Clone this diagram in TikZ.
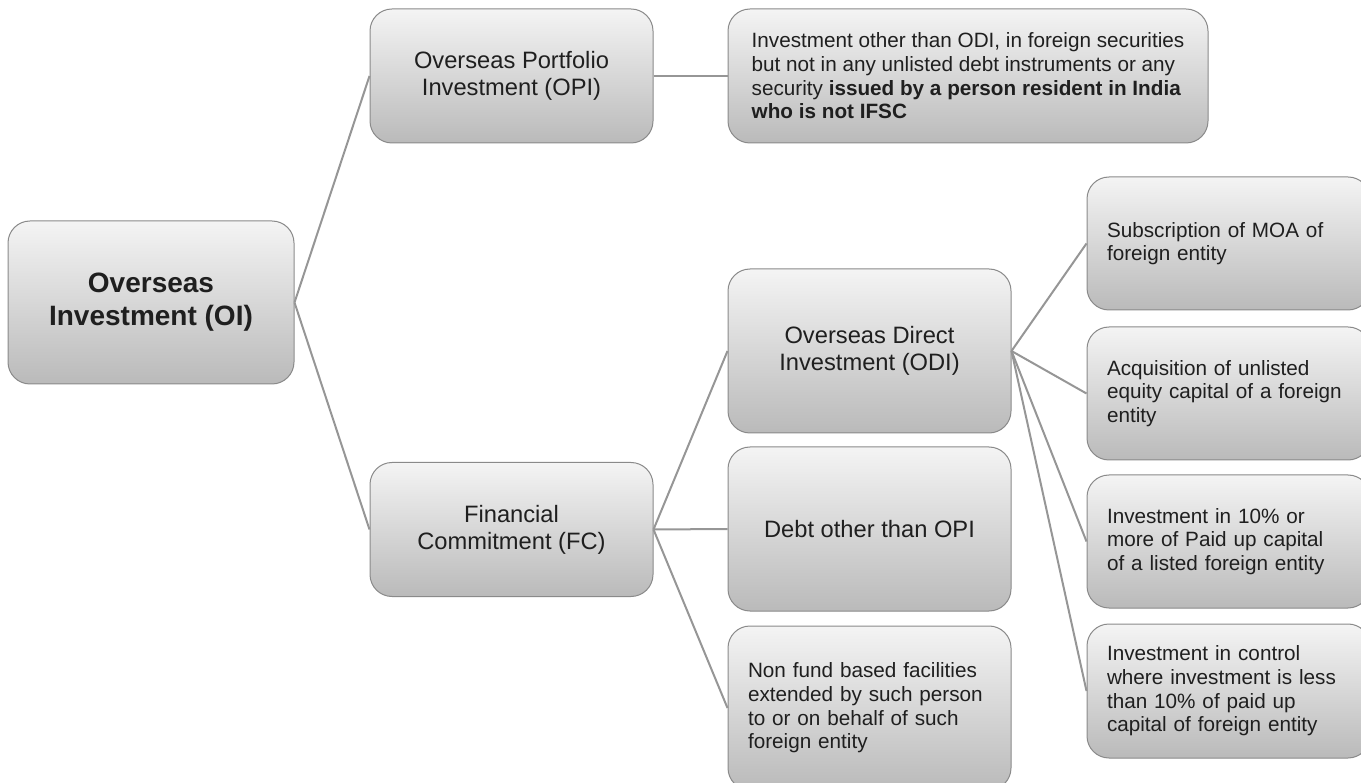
\documentclass[tikz,border=0pt]{standalone}
\usepackage{fontspec}
\setmainfont{Liberation Sans}
\usetikzlibrary{positioning}
\hyphenpenalty=10000

\definecolor{boxtop}{RGB}{244,244,244}
\definecolor{boxbot}{RGB}{186,186,186}
\definecolor{boxline}{RGB}{138,138,138}
\definecolor{linkgray}{RGB}{150,150,150}

\begin{document}
\begin{tikzpicture}[x=1pt, y=-1pt,
  every node/.style={text=black!88, inner sep=0pt},
  box/.style={draw=boxline, line width=1pt, rounded corners=22pt, top color=boxtop, bottom color=boxbot,
    minimum width=283pt, minimum height=164pt, align=center, font=\fontsize{23.7}{27}\selectfont},
  smalltext/.style={font=\fontsize{20.7}{23.6}\selectfont},
  leftbox/.style={box, smalltext, align=left, text width=243pt},
  link/.style={draw=linkgray, line width=2pt}]

\useasboundingbox (0,0) rectangle (1361,783);
\clip (0,0) rectangle (1361,783);

% Nodes
\node (oi) [box, minimum width=286pt, minimum height=163pt, font=\fontsize{28}{33}\selectfont\bfseries] at (151,302.5) {Overseas\\Investment (OI)};
\node (opi) [box, minimum height=134pt] at (511.5,76) {Overseas Portfolio\\Investment (OPI)};
\node (opidesc) [box, smalltext, align=left, minimum width=480pt, minimum height=134pt] at (968,76)
  {Investment other than ODI, in foreign securities\\but not in any unlisted debt instruments or any\\security \textbf{issued by a person resident in India}\\\textbf{who is not IFSC}};
\node (fc) [box, minimum height=134pt] at (511.5,529.5) {Financial\\Commitment (FC)};

\node (odi) [box] at (869.5,351) {Overseas Direct\\Investment (ODI)};
\node (debt) [box] at (869.5,529) {Debt other than OPI};
\node (nonfund) [leftbox] at (869.5,708) {Non fund based facilities\\extended by such person\\to or on behalf of such\\foreign entity};

\node (moa) [leftbox, minimum height=133pt] at (1228.5,243.5) {Subscription of MOA of\\foreign entity};
\node (equity) [leftbox, minimum height=133pt] at (1228.5,393.5) {Acquisition of unlisted\\equity capital of a foreign\\entity};
\node (listed) [leftbox, minimum height=133pt] at (1228.5,541.5) {Investment in 10\% or\\more of Paid up capital\\of a listed foreign entity};
\node (control) [leftbox, minimum height=134pt] at (1228.5,691) {Investment in control\\where investment is less\\than 10\% of paid up\\capital of foreign entity};

% Lines
\draw[link] (oi.east) -- (opi.west);
\draw[link] (oi.east) -- (fc.west);
\draw[link] (opi.east) -- (opidesc.west);
\draw[link] (fc.east) -- (odi.west);
\draw[link] (fc.east) -- (debt.west);
\draw[link] (fc.east) -- (nonfund.west);
\draw[link] (odi.east) -- (moa.west);
\draw[link] (odi.east) -- (equity.west);
\draw[link] (odi.east) -- (listed.west);
\draw[link] (odi.east) -- (control.west);

\end{tikzpicture}
\end{document}
